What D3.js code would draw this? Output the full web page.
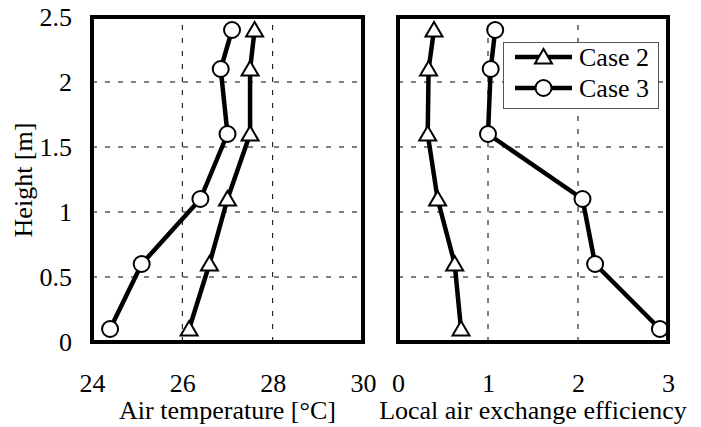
<!DOCTYPE html>
<html><head><meta charset="utf-8">
<script src="https://cdn.jsdelivr.net/npm/d3@7"></script>
<style>
@font-face { font-family: "ChartSerif"; src: local("Liberation Serif"), local("LiberationSerif"), local("Tinos"), local("Times New Roman"); }
body { margin: 0; }
</style>
</head><body><svg id="c" width="701" height="427"></svg>
<script>
const heights = [0.1, 0.6, 1.1, 1.6, 2.1, 2.4];
const tempCase2 = [26.15, 26.6, 27.0, 27.5, 27.5, 27.6];
const tempCase3 = [24.4, 25.1, 26.4, 27.0, 26.85, 27.1];
const effCase2 = [0.7, 0.63, 0.44, 0.33, 0.34, 0.4];
const effCase3 = [2.91, 2.19, 2.05, 1.0, 1.03, 1.08];
const yTicks = [0, 0.5, 1, 1.5, 2, 2.5];
const tempTicks = [24, 26, 28, 30];
const effTicks = [0, 1, 2, 3];
const seriesNames = ["Case 2", "Case 3"];

const FONT = '"Liberation Serif", ChartSerif, serif';
const svg = d3.select("#c").style("display", "block").attr("font-family", FONT);
const FS = 26;
const y = d3.scaleLinear().domain([0, 2.5]).range([342, 17]);
const xT = d3.scaleLinear().domain([24, 30]).range([92, 363]);
const xE = d3.scaleLinear().domain([0, 3]).range([398, 668]);

const triPath = "M0,-8L8.5,6.5L-8.5,6.5Z";
function marker(g, type, cx, cy) {
  if (type === "tri") {
    g.append("path").attr("d", triPath).attr("transform", `translate(${cx},${cy})`)
      .attr("fill", "#fff").attr("stroke", "#000").attr("stroke-width", 2);
  } else {
    g.append("circle").attr("cx", cx).attr("cy", cy).attr("r", 8)
      .attr("fill", "#fff").attr("stroke", "#000").attr("stroke-width", 2);
  }
}
function setFont(sel) {
  return sel.attr("font-family", FONT).attr("font-size", FS).attr("fill", "#000");
}
function txt(g) {
  return setFont(g.append("text"));
}

function panel(x, ticks, s2, s3, title, showY) {
  const g = svg.append("g");
  const [x0, x1] = x.range();
  g.append("g").selectAll("line").data(ticks.slice(1, -1)).join("line")
    .attr("x1", d => x(d)).attr("x2", d => x(d)).attr("y1", y(0)).attr("y2", y(2.5))
    .attr("stroke", "#000").attr("stroke-width", 1).attr("stroke-dasharray", "5,8");
  g.append("g").selectAll("line").data(yTicks.slice(1, -1)).join("line")
    .attr("x1", x0).attr("x2", x1).attr("y1", d => y(d)).attr("y2", d => y(d))
    .attr("stroke", "#000").attr("stroke-width", 1).attr("stroke-dasharray", "5,8");
  const ax = d3.axisBottom(x).tickValues(ticks).tickSize(0).tickPadding(0).tickFormat(d3.format("d"));
  const axg = g.append("g").attr("transform", `translate(0,${y(0)})`).call(ax)
    .attr("font-family", FONT).attr("font-size", FS);
  axg.select(".domain").remove();
  setFont(axg.selectAll("text").attr("dy", null).attr("y", 50));
  txt(g).attr("x", (x0 + x1) / 2).attr("y", 419).attr("text-anchor", "middle").text(title);
  if (showY) {
    const ay = d3.axisLeft(y).tickValues(yTicks).tickSize(0).tickPadding(20).tickFormat(d3.format("~g"));
    const ayg = g.append("g").attr("transform", `translate(${x0},0)`).call(ay)
      .attr("font-family", FONT).attr("font-size", FS);
    ayg.select(".domain").remove();
    setFont(ayg.selectAll("text").attr("dy", "0.34em"));
    txt(g).attr("transform", `translate(32,180) rotate(-90)`).attr("text-anchor", "middle").text("Height [m]");
  }
  const line = d3.line().x(d => x(d[0])).y(d => y(d[1]));
  [[s2, "tri"], [s3, "circ"]].forEach(([vals, type]) => {
    const pts = vals.map((v, i) => [v, heights[i]]);
    g.append("path").attr("d", line(pts)).attr("fill", "none").attr("stroke", "#000")
      .attr("stroke-width", 4.5).attr("stroke-linejoin", "round");
    pts.forEach(p => marker(g, type, x(p[0]), y(p[1])));
  });
  g.append("rect").attr("x", x0).attr("y", y(2.5)).attr("width", x1 - x0).attr("height", y(0) - y(2.5))
    .attr("fill", "none").attr("stroke", "#000").attr("stroke-width", 4);
  return g;
}

panel(xT, tempTicks, tempCase2, tempCase3, "Air temperature [°C]", true);
panel(xE, effTicks, effCase2, effCase3, "Local air exchange efficiency", false);

const lg = svg.append("g");
lg.append("rect").attr("x", 503.5).attr("y", 42.5).attr("width", 155).attr("height", 66)
  .attr("fill", "#fff").attr("stroke", "#555").attr("stroke-width", 1);
seriesNames.forEach((name, i) => {
  const cy = 57 + i * 31;
  lg.append("line").attr("x1", 515).attr("x2", 572).attr("y1", cy).attr("y2", cy)
    .attr("stroke", "#000").attr("stroke-width", 4.5);
  marker(lg, i === 0 ? "tri" : "circ", 543.5, cy);
  txt(lg).attr("x", 579).attr("y", cy + 9).text(name);
});
</script></body></html>
